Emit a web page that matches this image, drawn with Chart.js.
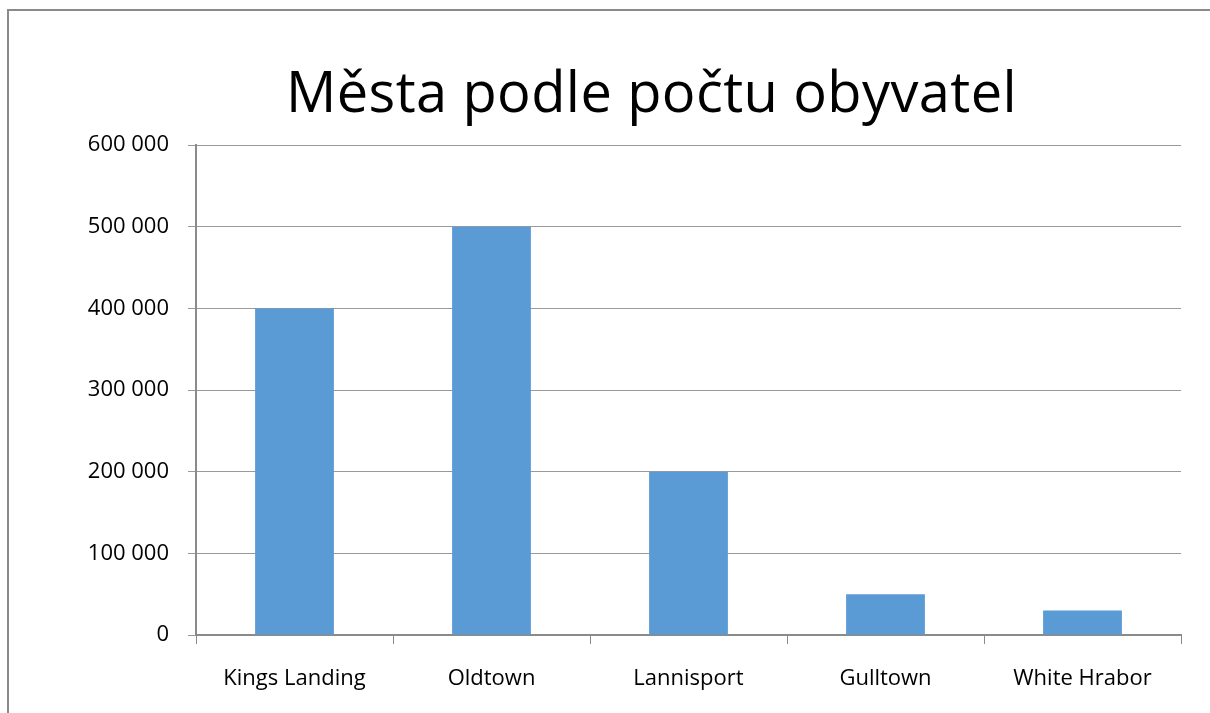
<!DOCTYPE html>
<html>
<head>
<meta charset="utf-8">
<script src="https://cdn.jsdelivr.net/npm/chart.js@4"></script>
<style>
  html, body { margin: 0; padding: 0; background: #fff; overflow: hidden; }
  #wrap { position: relative; width: 1210px; height: 713px; }
</style>
</head>
<body>
<div id="wrap"><canvas id="c" width="1210" height="713"></canvas></div>
<script>
const titleText = 'Města podle počtu obyvatel';
const categories = ['Kings Landing', 'Oldtown', 'Lannisport', 'Gulltown', 'White Hrabor'];
const population = [400000, 500000, 200000, 50000, 30000];
const yTicks = [0, 100000, 200000, 300000, 400000, 500000, 600000];

const framePlugin = {
  id: 'frame',
  beforeDraw(chart) {
    const ctx = chart.ctx;
    ctx.save();
    ctx.fillStyle = '#ffffff';
    ctx.fillRect(0, 0, chart.width, chart.height);
    ctx.strokeStyle = '#8a8a8a';
    ctx.lineWidth = 2;
    ctx.strokeRect(8, 10, 1400, 1000);
    ctx.restore();
  }
};

const titleTweak = {
  id: 'titleTweak',
  afterLayout(chart) {
    const tb = chart.titleBlock;
    if (!tb) return;
    if (!tb._wrapped) {
      const orig = tb.draw.bind(tb);
      tb.draw = function () {
        const ctx = chart.ctx;
        ctx.save();
        ctx.letterSpacing = '0.4px';
        orig();
        ctx.restore();
      };
      tb._wrapped = true;
    }
    tb.left += 57;
    tb.right += 57;
  }
};

const fmt = v => String(v).replace(/\B(?=(\d{3})+(?!\d))/g, ' ');

new Chart(document.getElementById('c'), {
  type: 'bar',
  data: {
    labels: categories,
    datasets: [{
      data: population,
      backgroundColor: '#5B9BD5',
      borderWidth: 0,
      barPercentage: 0.4,
      categoryPercentage: 1
    }]
  },
  options: {
    responsive: false,
    animation: false,
    events: [],
    layout: { padding: { left: 8, right: 29, top: 0, bottom: 0 } },
    plugins: {
      legend: { display: false },
      tooltip: { enabled: false },
      title: {
        display: true,
        text: titleText,
        color: '#000',
        font: { family: 'Open Sans', size: 56, weight: 'normal', lineHeight: 1.2 },
        padding: { top: 62, bottom: 16 }
      }
    },
    scales: {
      x: {
        grid: { display: true, drawOnChartArea: false, drawTicks: true, tickLength: 9, color: '#8a8a8a', lineWidth: 1, offset: true },
        border: { display: true, color: '#8a8a8a', width: 2 },
        ticks: { color: '#000', font: { family: 'Open Sans', size: 22 }, padding: 22, maxRotation: 0, autoSkip: false },
        afterFit(scale) { scale.height = 78; }
      },
      y: {
        min: 0,
        max: 600000,
        afterBuildTicks(scale) { scale.ticks = yTicks.map(v => ({ value: v })); },
        grid: { color: '#9a9a9a', lineWidth: 1, drawTicks: true, tickLength: 8 },
        border: { display: true, color: '#8a8a8a', width: 2 },
        ticks: { color: '#000', font: { family: 'Open Sans', size: 22 }, padding: 19, callback: v => fmt(v) },
        afterFit(scale) { scale.width = 188; }
      }
    }
  },
  plugins: [framePlugin, titleTweak]
});
</script>
</body>
</html>
